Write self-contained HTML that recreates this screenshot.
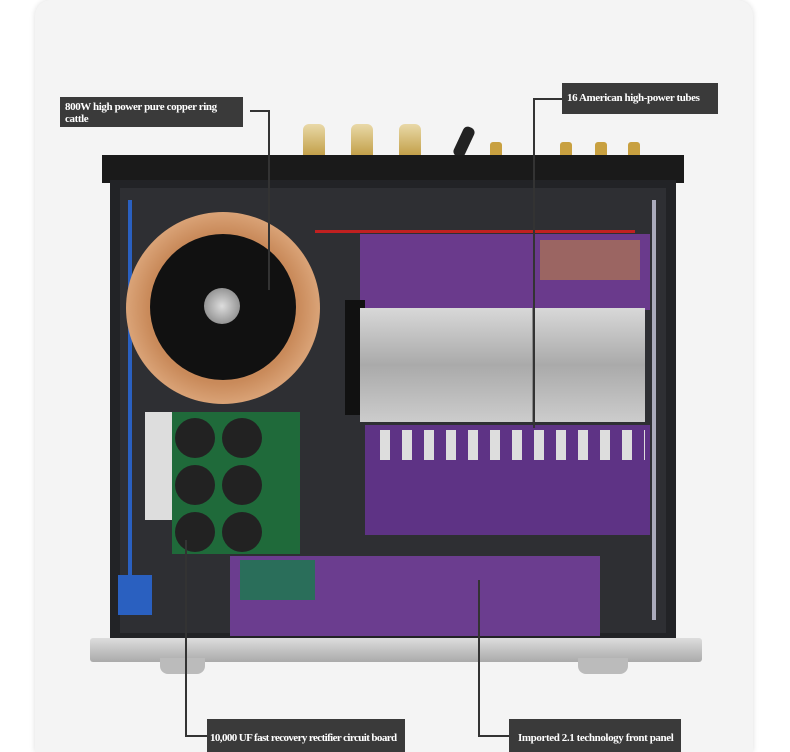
<!DOCTYPE html>
<html><head><style>
body{margin:0;width:790px;height:752px;background:#fff;position:relative;overflow:hidden;font-family:"Liberation Serif",serif}
div{position:absolute;box-sizing:border-box}
.lab{background:#3a3a3a;color:#fff;font-weight:bold;font-size:11px;line-height:12px;padding:4px 5px;letter-spacing:-0.4px}
.ln{background:#333}
</style></head><body>
<div style="left:35px;top:0;width:718px;height:752px;background:#f4f4f4;border-radius:16px 16px 0 0;box-shadow:0 0 6px #ddd"></div>
<!-- rear terminals -->
<div style="left:303px;top:124px;width:22px;height:40px;background:linear-gradient(#e9d9a8,#b8902f);border-radius:6px"></div>
<div style="left:351px;top:124px;width:22px;height:40px;background:linear-gradient(#e9d9a8,#b8902f);border-radius:6px"></div>
<div style="left:399px;top:124px;width:22px;height:40px;background:linear-gradient(#e9d9a8,#b8902f);border-radius:6px"></div>
<div style="left:458px;top:126px;width:12px;height:32px;background:#222;border-radius:5px;transform:rotate(25deg)"></div>
<div style="left:490px;top:142px;width:12px;height:18px;background:#c8a040;border-radius:3px"></div>
<div style="left:560px;top:142px;width:12px;height:18px;background:#c8a040;border-radius:3px"></div>
<div style="left:595px;top:142px;width:12px;height:18px;background:#c8a040;border-radius:3px"></div>
<div style="left:628px;top:142px;width:12px;height:18px;background:#c8a040;border-radius:3px"></div>
<!-- chassis -->
<div style="left:102px;top:155px;width:582px;height:28px;background:#1a1a1a"></div>
<div style="left:110px;top:180px;width:566px;height:462px;background:#222326"></div>
<div style="left:120px;top:188px;width:546px;height:445px;background:#2e2f33"></div>
<div style="left:315px;top:230px;width:320px;height:3px;background:#c02020"></div>
<div style="left:128px;top:200px;width:4px;height:380px;background:#2a60c0"></div>
<div style="left:652px;top:200px;width:4px;height:420px;background:#aab"></div>
<!-- transformer -->
<div style="left:126px;top:212px;width:194px;height:192px;border-radius:50%;background:radial-gradient(circle,#c98a5a 55%,#d9a276 70%,#b87848 100%)"></div>
<div style="left:150px;top:234px;width:146px;height:146px;border-radius:50%;background:#111"></div>
<div style="left:204px;top:288px;width:36px;height:36px;border-radius:50%;background:radial-gradient(#ddd,#777)"></div>
<!-- purple top board -->
<div style="left:360px;top:234px;width:290px;height:76px;background:#6a3a8c"></div>
<div style="left:540px;top:240px;width:100px;height:40px;background:#b07850;opacity:.7"></div>
<!-- heatsink -->
<div style="left:345px;top:300px;width:20px;height:115px;background:#111"></div>
<div style="left:360px;top:308px;width:285px;height:114px;background:linear-gradient(#d8d8d8,#aaa 50%,#ccc)"></div>
<div style="left:532px;top:308px;width:2px;height:114px;background:#888"></div>
<!-- mid purple board -->
<div style="left:365px;top:425px;width:285px;height:110px;background:#5e3385"></div>
<div style="left:380px;top:430px;width:265px;height:30px;background:repeating-linear-gradient(90deg,#ddd 0 10px,#5e3385 10px 22px)"></div>
<!-- green PSU board -->
<div style="left:145px;top:412px;width:30px;height:108px;background:#ddd"></div>
<div style="left:172px;top:412px;width:128px;height:142px;background:#1f6a3a"></div>
<div style="left:175px;top:418px;width:40px;height:40px;border-radius:50%;background:#222"></div>
<div style="left:222px;top:418px;width:40px;height:40px;border-radius:50%;background:#222"></div>
<div style="left:175px;top:465px;width:40px;height:40px;border-radius:50%;background:#222"></div>
<div style="left:222px;top:465px;width:40px;height:40px;border-radius:50%;background:#222"></div>
<div style="left:175px;top:512px;width:40px;height:40px;border-radius:50%;background:#222"></div>
<div style="left:222px;top:512px;width:40px;height:40px;border-radius:50%;background:#222"></div>
<!-- bottom purple board -->
<div style="left:230px;top:556px;width:370px;height:80px;background:#6b3d8f"></div>
<div style="left:240px;top:560px;width:75px;height:40px;background:#2a6e5a"></div>
<div style="left:118px;top:575px;width:34px;height:40px;background:#2a60c0"></div>
<!-- front panel -->
<div style="left:90px;top:638px;width:612px;height:24px;background:linear-gradient(#ddd,#aaa);border-radius:3px"></div>
<div style="left:160px;top:658px;width:45px;height:16px;background:#bbb;border-radius:0 0 8px 8px"></div>
<div style="left:578px;top:658px;width:50px;height:16px;background:#bbb;border-radius:0 0 8px 8px"></div>
<!-- labels -->
<div class="lab" style="left:60px;top:97px;width:183px;height:30px">800W high power pure copper ring<br>cattle</div>
<div class="ln" style="left:250px;top:110px;width:19px;height:2px"></div>
<div class="ln" style="left:268px;top:110px;width:2px;height:180px"></div>
<div class="lab" style="left:562px;top:83px;width:156px;height:31px;padding-top:9px">16 American high-power tubes</div>
<div class="ln" style="left:533px;top:98px;width:29px;height:2px"></div>
<div class="ln" style="left:533px;top:98px;width:2px;height:330px"></div>
<div class="lab" style="left:207px;top:719px;width:198px;height:33px;padding-top:13px;padding-left:3px;letter-spacing:-0.6px">10,000 UF fast recovery rectifier circuit board</div>
<div class="ln" style="left:185px;top:540px;width:2px;height:196px"></div>
<div class="ln" style="left:185px;top:735px;width:22px;height:2px"></div>
<div class="lab" style="left:509px;top:719px;width:172px;height:33px;padding-top:13px;padding-left:9px">Imported 2.1 technology front panel</div>
<div class="ln" style="left:478px;top:580px;width:2px;height:156px"></div>
<div class="ln" style="left:478px;top:735px;width:31px;height:2px"></div>
</body></html>
